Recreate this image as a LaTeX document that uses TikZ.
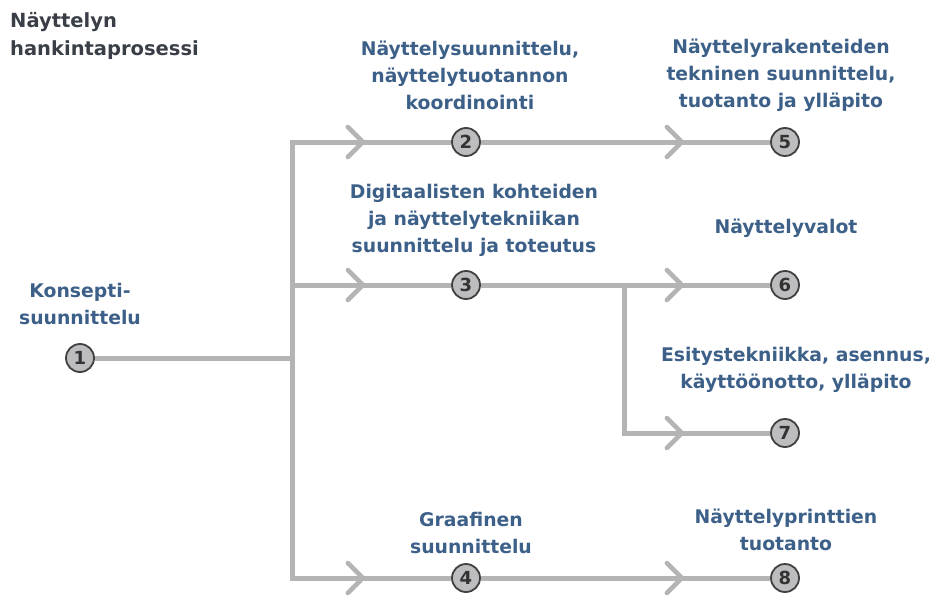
\documentclass[tikz,border=0pt]{standalone}
\usepackage{fontspec}
\setmainfont{DejaVu Sans}
\usetikzlibrary{arrows.meta}
\usetikzlibrary{decorations.markings}
\definecolor{pipegray}{HTML}{B4B4B4}
\definecolor{labelblue}{HTML}{3D6089}
\definecolor{titlegray}{HTML}{3A3F47}
\definecolor{stagefill}{HTML}{BDBDC0}

\begin{document}
\begin{tikzpicture}[x=1pt, y=-1pt,
		pipe/.style={draw=pipegray, line width=5pt},
		flow/.style={pipe, postaction={decorate}, decoration={markings, mark=at position -86pt with {\arrow[pipegray]{Straight Barb[length=15pt,width=30pt,line width=4.5pt,round]}}}},
		stage/.style={circle, draw=black!75, fill=stagefill, line width=1.8pt, minimum size=28pt, inner sep=0pt, text=black!80, font=\fontsize{18}{18}\selectfont\bfseries},
		phase/.style={align=center, text=labelblue, font=\fontsize{18.8}{27}\selectfont\bfseries},
		heading/.style={align=left, text=titlegray, inner sep=0pt, font=\fontsize{19.5}{28}\selectfont\bfseries}]
		\useasboundingbox (0,0) rectangle (932,597);
		% stages
		\node[stage] (n1) at (80,358) {1};
		\node[stage] (n2) at (466,142) {2};
		\node[stage] (n3) at (466,285) {3};
		\node[stage] (n4) at (466,578) {4};
		\node[stage] (n5) at (785,142) {5};
		\node[stage] (n6) at (785,285) {6};
		\node[stage] (n7) at (785,433) {7};
		\node[stage] (n8) at (785,578) {8};
		\coordinate (hub) at (292,358);
		\coordinate (t2) at (292,142);
		\coordinate (t3) at (292,285);
		\coordinate (t4) at (292,578);
		\coordinate (fork) at (624,285);
		\coordinate (f7) at (624,433);
		% connections
		\draw[pipe] (n1) -- (hub);
		\draw[pipe, line cap=rect] (t2) -- (t4);
		\draw[pipe, line cap=rect] (fork) -- (f7);
		\draw[flow] (t2) -- (n2);
		\draw[flow] (t3) -- (n3);
		\draw[flow] (t4) -- (n4);
		\draw[flow] (n2) -- (n5);
		\draw[flow] (n3) -- (n6);
		\draw[flow] (f7) -- (n7);
		\draw[flow] (n4) -- (n8);
		% texts
		\node[heading, anchor=west] (head) at (10,36) {Näyttelyn\\hankintaprosessi};
		\node[phase] (l1) at (80,304) {Konsepti-\\suunnittelu};
		\node[phase] (l2) at (470,75) {Näyttelysuunnittelu,\\näyttelytuotannon\\koordinointi};
		\node[phase] (l5) at (781,75) {Näyttelyrakenteiden\\tekninen suunnittelu,\\tuotanto ja ylläpito};
		\node[phase] (l3) at (474,220) {Digitaalisten kohteiden\\ja näyttelytekniikan\\suunnittelu ja toteutus};
		\node[phase] (l6) at (786,228) {Näyttelyvalot};
		\node[phase] (l7) at (796,370) {Esitystekniikka, asennus,\\käyttöönotto, ylläpito};
		\node[phase] (l4) at (471,533) {Graafinen\\suunnittelu};
		\node[phase] (l8) at (786,530) {Näyttelyprinttien\\tuotanto};
	\end{tikzpicture}
\end{document}
